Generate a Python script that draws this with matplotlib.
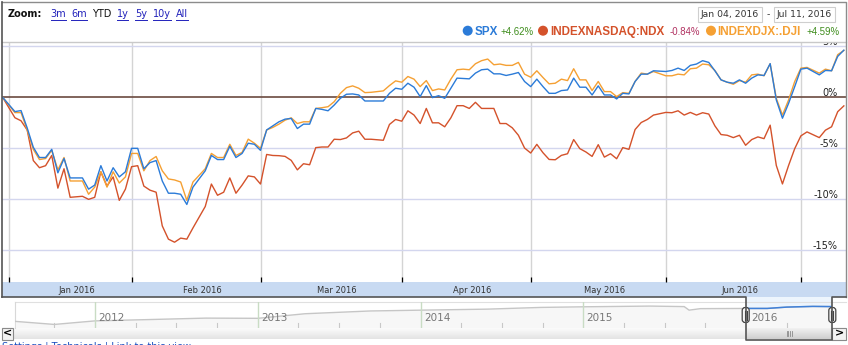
import matplotlib
matplotlib.use("Agg")
import matplotlib.pyplot as plt
import matplotlib.transforms as mtransforms
from matplotlib.patches import Rectangle, Circle, FancyBboxPatch
import numpy as np
import pandas as pd

W, H = 848, 345

# x axis = weekday slots, market holidays leave a gap with no data
start, end = "2015-12-31", "2016-07-11"
holidays = ["2016-01-01", "2016-01-18", "2016-02-15", "2016-03-25", "2016-05-30", "2016-07-04"]

# % change since Dec 31 2015, one value per trading day
spx_pct = [0,
           -1.4, -1.3, -3.0, -4.9, -5.9, -5.9, -5.1, -7.4, -6.0, -7.9,
           -7.9, -9.0, -8.6, -6.7, -8.2, -6.9, -7.8, -7.3, -5.0,
           -5.0, -7.0, -6.4, -6.2, -8.2, -9.4, -9.4, -9.5, -10.5, -8.8,
           -7.2, -5.7, -6.1, -6.1, -4.8, -5.9, -5.5, -4.5, -4.6, -5.2,
           -3.2, -2.8, -2.4, -2.14, -2.07, -3.06, -2.63, -2.63, -1.09, -1.18, -1.32,
           -0.76, -0.10, 0.30, 0.33, 0.23, -0.36, -0.36, -0.36, 0.39, 0.89, 0.79,
           1.38, 0.99, 0.07, 1.15, -0.03, 0.16, -0.10, 0.89, 1.88, 1.84, 1.81,
           2.37, 2.70, 2.76, 2.30, 2.30, 2.14, 2.27, 2.43, 1.55, 1.05,
           1.78, 1.05, 0.39, 0.39, 0.66, 0.72, 1.88, 0.99, 0.99, 0.23, 1.12,
           0.23, 0.23, -0.16, 0.39, 0.33, 1.55, 2.27, 2.27, 2.60, 2.53,
           2.63, 2.86, 2.63, 3.13, 3.26, 3.59, 3.42, 2.60, 1.71, 1.48, 1.38,
           1.71, 1.38, 1.88, 2.20, 2.14, 3.30, -0.26, -2.05, -0.59, 1.05, 2.76,
           2.86, 2.20, 2.63, 2.60, 4.01, 4.62]
ndx_pct = [0,
           -2.0, -2.3, -3.2, -6.2, -6.9, -6.7, -5.7, -8.9, -7.0, -9.8,
           -9.7, -10.0, -9.8, -7.3, -8.7, -7.8, -10.1, -9.0, -6.8,
           -6.7, -8.7, -9.1, -9.3, -12.6, -13.9, -14.2, -13.8, -13.9, -12.8,
           -10.7, -8.5, -9.6, -9.3, -7.9, -9.4, -8.6, -7.7, -7.8, -8.5,
           -5.6, -5.7, -5.72, -5.79, -6.18, -7.11, -6.51, -6.61, -4.93, -4.87, -4.87,
           -4.11, -4.14, -3.98, -3.49, -3.32, -4.11, -4.11, -4.21, -2.66, -2.17, -2.34,
           -1.32, -1.74, -2.57, -1.09, -2.50, -2.50, -2.89, -2.01, -0.82, -0.82, -1.09,
           -0.49, -1.09, -1.09, -1.09, -2.57, -2.57, -2.99, -3.72, -4.97, -5.46,
           -4.61, -5.43, -6.09, -6.12, -5.69, -5.53, -4.14, -5.03, -5.36, -5.79, -4.64,
           -5.86, -5.53, -6.02, -4.93, -5.10, -3.16, -2.47, -2.17, -1.74, -1.48,
           -1.51, -1.32, -1.74, -1.48, -1.74, -1.51, -1.64, -2.80, -3.65, -3.72, -3.95,
           -3.72, -4.70, -4.14, -3.88, -4.05, -2.73, -6.68, -8.49, -6.68, -5.03, -3.78,
           -3.39, -3.95, -3.22, -2.89, -1.41, -0.84]
dji_pct = [0,
           -1.5, -1.5, -3.2, -5.1, -6.1, -6.0, -5.2, -7.1, -5.9, -8.2,
           -8.2, -9.5, -8.8, -7.3, -8.8, -7.3, -8.4, -7.8, -5.5,
           -5.5, -7.2, -6.2, -5.8, -7.2, -8.0, -8.1, -8.3, -10.1, -8.3,
           -7.0, -5.5, -5.9, -5.9, -4.6, -5.7, -5.4, -4.1, -4.5, -5.0,
           -3.2, -2.95, -2.63, -2.24, -2.01, -2.57, -2.40, -2.40, -1.09, -1.02, -0.92,
           -0.43, 0.39, 0.95, 1.12, 0.89, 0.46, 0.49, 0.63, 1.15, 1.61, 1.48,
           2.04, 1.78, 1.05, 1.64, 0.66, 0.82, 0.72, 1.78, 2.70, 2.76, 2.70,
           3.29, 3.59, 3.75, 3.19, 3.26, 3.13, 3.13, 3.42, 2.27, 1.97,
           2.60, 1.94, 1.32, 1.38, 1.78, 1.64, 2.80, 1.71, 1.71, 0.66, 1.55,
           0.56, 0.56, 0.07, 0.46, 0.39, 1.55, 2.37, 2.27, 2.53, 2.11,
           2.11, 2.27, 2.20, 2.80, 2.86, 3.26, 3.19, 2.63, 1.71, 1.48, 1.28,
           1.64, 1.48, 2.20, 2.27, 2.11, 3.29, -0.10, -1.74, -0.26, 1.55, 2.86,
           2.93, 2.37, 2.76, 2.60, 4.18, 4.59]

names = ["SPX", "INDEXNASDAQ:NDX", "INDEXDJX:.DJI"]
changes = ["+4.62%", "-0.84%", "+4.59%"]
month_labels = ["Jan 2016", "Feb 2016", "Mar 2016", "Apr 2016", "May 2016", "Jun 2016"]
y_levels = [5, 0, -5, -10, -15]
zoom_links = ["3m", "6m", "YTD", "1y", "5y", "10y", "All"]
date_range = ["Jan 04, 2016", "Jul 11, 2016"]

# navigator (overview of the last years)
nav_years = [2011.51, 2011.75, 2012.0, 2012.31, 2012.68, 2013.0, 2013.29, 2013.69, 2014.0,
             2014.41, 2014.74, 2015.0, 2015.41, 2015.62, 2015.65, 2015.72, 2016.0, 2016.13,
             2016.25, 2016.41, 2016.53]
nav_level = [1330, 1165, 1357, 1423, 1506, 1495, 1742, 1891, 1935, 1990, 2083, 2116, 2155,
             2127, 1935, 2017, 2028, 2028, 2100, 2138, 2127]
nav_labels = ["2012", "2013", "2014", "2015", "2016"]

BLUE, RED, ORANGE = "#2b7bd8", "#d4522b", "#f5a033"
colors = [BLUE, RED, ORANGE]
UI = "DejaVu Sans"


def px_box(x0, y0, x1, y1):
    return [x0 / W, 1 - y1 / H, (x1 - x0) / W, (y1 - y0) / H]


weekdays = pd.bdate_range(start, end)
trading = weekdays[~weekdays.isin(pd.to_datetime(holidays))]
xs = weekdays.get_indexer(trading)

wmonths = weekdays.to_period("M")
first_wd = [int(np.argmax(wmonths == m)) for m in wmonths.unique()][1:]
tick_pos = [max(s - 1, 1) for s in first_wd]
tmonths = trading.to_period("M")
first_td = [int(xs[np.argmax(tmonths == m)]) for m in tmonths.unique()][1:]
label_pos = [(a + b) / 2 for a, b in zip(first_td[:-1], first_td[1:])]

fig = plt.figure(figsize=(W / 100, H / 100), dpi=100, facecolor="white")

bg = fig.add_axes([0, 0, 1, 1], zorder=0)
bg.set_xlim(0, W)
bg.set_ylim(H, 0)
bg.axis("off")

# month band
bg.add_patch(Rectangle((2, 282), 844, 15, color="#c8daf2", lw=0))
# selection tab background
bg.add_patch(Rectangle((745.7, 297), 86.6, 30.5, color="#edf5fd", lw=0))

# top bar: zoom links
bg.text(8, 14, "Zoom:", fontsize=7, fontweight="bold", family=UI, va="center", color="#111")
link_x = [50.5, 71, 92.5, 116.5, 135, 153, 176]
link_txt = []
for lx, lab in zip(link_x, zoom_links):
    c = "#111" if lab == "YTD" else "#2222bb"
    link_txt.append(bg.text(lx, 14, lab, fontsize=7, family=UI, va="center", color=c))

# date range boxes
bg.add_patch(Rectangle((698, 7.3), 63.7, 14.4, fc="white", ec="#cfcfcf", lw=0.8))
bg.add_patch(Rectangle((774, 7.3), 61, 14.4, fc="white", ec="#cfcfcf", lw=0.8))
bg.text(729.8, 14.8, date_range[0], fontsize=6.7, family=UI, ha="center", va="center", color="#333")
bg.text(768, 14.8, "-", fontsize=6.7, family=UI, ha="center", va="center", color="#333")
bg.text(804.5, 14.8, date_range[1], fontsize=6.7, family=UI, ha="center", va="center", color="#333")

# legend row
dot_x = [467.7, 543, 711]
name_x = [475, 550, 717.7]
chg_x = [500, 670, 806]
for i in range(3):
    bg.add_patch(Circle((dot_x[i], 30.7), 5, color=colors[i], lw=0))
    bg.text(name_x[i], 34.6, names[i], fontsize=8.4, fontweight="bold", family="Liberation Sans",
            color=colors[i], va="baseline")
    cc = "#3f8d1d" if changes[i].startswith("+") else "#b03060"
    bg.text(chg_x[i], 34.6, changes[i], fontsize=6.9, family="Liberation Sans", color=cc, va="baseline")

# main chart
ax = fig.add_axes(px_box(2, 41.7, 846, 282), zorder=2)
ax.patch.set_alpha(0)
ax.set_xlim(-0.1, 137.35)
ax.set_ylim(-18.1, 5.45)
for s in ax.spines.values():
    s.set_visible(False)
ax.set_yticks([])
ax.set_xticks(tick_pos)
ax.tick_params(axis="x", direction="in", length=3.6, width=0.9, color="black",
               labelbottom=False, pad=0)
ax.grid(axis="x", color="#d4d4d4", lw=1)
ax.set_axisbelow(True)
for v in y_levels:
    if v == 0:
        ax.axhline(v, color="#6b4a40", lw=1.2, zorder=2)
    else:
        ax.axhline(v, color="#d3d6ee", lw=1, zorder=1)

ax.plot(xs, ndx_pct, color=RED, lw=1.0, zorder=3)
ax.plot(xs, dji_pct, color=ORANGE, lw=1.0, zorder=3)
ax.plot(xs, spx_pct, color=BLUE, lw=1.0, zorder=4)

ytr = mtransforms.blended_transform_factory(ax.transAxes, ax.transData)
for v in y_levels:
    ax.text(0.9905, v + 0.15, f"{v}%", transform=ytr, ha="right", va="baseline",
            fontsize=7, family=UI, color="#222", clip_on=True, zorder=5)

xtr = mtransforms.blended_transform_factory(ax.transData, ax.transAxes)
for p, lab in zip(label_pos, month_labels):
    ax.text(p, -0.034, lab, transform=xtr, ha="center", va="center", fontsize=6,
            family=UI, color="#333", clip_on=False)

# navigator
nav = fig.add_axes(px_box(15, 302, 832.3, 327.5), zorder=1)
nav.patch.set_alpha(0)
nav.set_xlim(2011.508, 2016.53)
nav.set_ylim(1000, 2375)
nav.axis("off")
ny = np.array(nav_years)
nl = np.array(nav_level)
nav.fill_between(ny, nl, 1000, color="#f7f7f7", lw=0)
nav.plot(ny, nl, color="#c6c6c6", lw=1)
sel = ny >= 2016.0
nav.plot(ny[sel], nl[sel], color="#3f80d8", lw=1.1)
ntr = mtransforms.blended_transform_factory(nav.transData, nav.transAxes)
for k, lab in enumerate(nav_labels):
    yr = 2012 + k
    if yr < 2016:
        nav.plot([yr, yr], [0, 1], transform=ntr, color="#c9dcc4", lw=1)
    off = 0.035 if yr == 2016 else 0.02
    nav.text(yr + off, 0.36, lab, transform=ntr, fontsize=7.5, family=UI, color="#777",
             va="center", ha="left")
for q in np.arange(2011.75, 2016.5, 0.25):
    if abs(q - round(q)) > 0.01:
        nav.plot([q, q], [0, 0.17], transform=ntr, color="#c8c8c8", lw=0.8)

# scrollbar
grad = np.linspace(0, 1, 20).reshape(-1, 1)
bg.imshow(grad, extent=(2, 846, 339.5, 327.5), cmap=matplotlib.colors.LinearSegmentedColormap.from_list(
    "sb", ["#fdfdfd", "#e4e4e4"]), aspect="auto", zorder=1)
bg.imshow(grad, extent=(745.7, 832.3, 339.5, 327.5), cmap=matplotlib.colors.LinearSegmentedColormap.from_list(
    "th", ["#f4f4f4", "#cfcfcf"]), aspect="auto", zorder=1)
bg.set_xlim(0, W)
bg.set_ylim(H, 0)
for gx in [786.5, 788.3, 790.1, 791.9]:
    bg.plot([gx, gx], [331, 336], color="#8a8a8a", lw=0.6, zorder=2)
bg.add_patch(Rectangle((2, 327.5), 11, 12, fc="#f3f3f3", ec="#8a8a8a", lw=0.8, zorder=2))
bg.add_patch(Rectangle((832.3, 327.5), 13.7, 12, fc="#f3f3f3", ec="#8a8a8a", lw=0.8, zorder=2))
bg.text(7.5, 333.8, "<", fontsize=8, fontweight="bold", family=UI, ha="center", va="center", zorder=3)
bg.text(839.2, 333.8, ">", fontsize=8, fontweight="bold", family=UI, ha="center", va="center", zorder=3)

# nav frame
bg.plot([15, 846], [302, 302], color="#e0e0e0", lw=0.8, zorder=1)
bg.plot([15, 15], [302, 327.5], color="#d8d8d8", lw=0.8, zorder=1)

# bottom links (cut by the figure edge, as in the page)
bg.text(2, 341.3, "Settings | Technicals | Link to this view", fontsize=7, family=UI,
        color="#1a4fc0", va="top")

# foreground outlines and handles
fg = fig.add_axes([0, 0, 1, 1], zorder=6)
fg.set_xlim(0, W)
fg.set_ylim(H, 0)
fg.axis("off")
fg.patch.set_alpha(0)
fg.plot([2, 846], [41.7, 41.7], color="#c9c9c9", lw=1)
fg.plot([2, 846, 846], [2, 2, 297], color="#8c8c8c", lw=1)
fg.plot([2, 2], [2, 297], color="#555", lw=1.2)
fg.plot([2, 745.7, 745.7, 832.3, 832.3, 846], [297, 297, 339.5, 339.5, 297, 297],
        color="#555", lw=1.2)
for hx in [745.7, 832.3]:
    fg.add_patch(FancyBboxPatch((hx - 3.5, 307.5), 7, 15, boxstyle="round,pad=0,rounding_size=3",
                                fc="#f6f6f6", ec="#444", lw=0.9))
    for dx in [-1.1, 1.1]:
        fg.plot([hx + dx, hx + dx], [310.5, 319.5], color="#444", lw=0.8)

# underline the zoom links
fig.canvas.draw()
rend = fig.canvas.get_renderer()
for t in link_txt:
    if t.get_text() == "YTD":
        continue
    bb = t.get_window_extent(rend)
    fg.plot([bb.x0, bb.x1], [H - bb.y0 + 0.5, H - bb.y0 + 0.5], color="#2222bb", lw=0.7)

fig.savefig("out.png", dpi=100, facecolor="white")
